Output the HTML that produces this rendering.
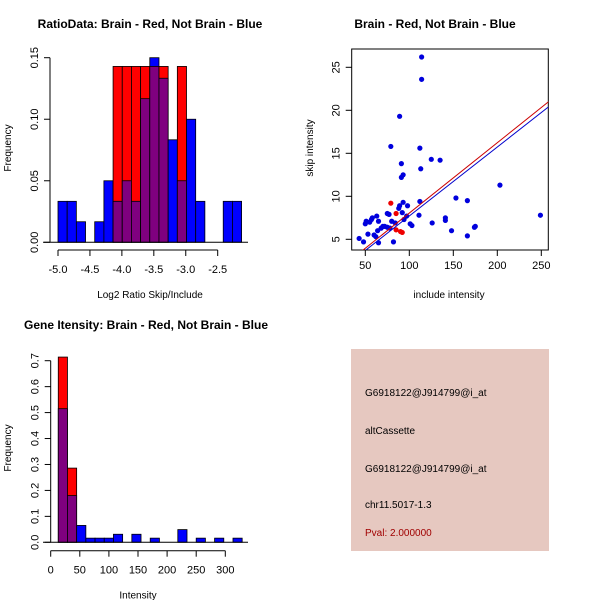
<!DOCTYPE html>
<html><head><meta charset="utf-8">
<style>
body{margin:0;background:#fff;}
svg{display:block;font-family:"Liberation Sans",sans-serif;}
</style></head>
<body>
<svg id="c" width="600" height="600" xmlns="http://www.w3.org/2000/svg">
<rect width="600" height="600" fill="#fff"/>
</svg>
<script>
// ---------- Data ----------
const ratioBinStart = -5.0;
const ratioBinWidth = 0.1437;
const ratioBlue = [0.0333,0.0333,0.0167,0,0.0167,0.05,0.0333,0.05,0.0333,0.1167,0.15,0.1333,0.0833,0.05,0.1,0.0333,0,0,0.0333,0.0333];
const ratioRed  = [0,0,0,0,0,0,0.1429,0.1429,0.1429,0.1429,0.1429,0.1429,0,0.1429,0,0,0,0,0,0];
const ratioXTicks = [-5.0,-4.5,-4.0,-3.5,-3.0,-2.5];
const ratioXLabels = ["-5.0","-4.5","-4.0","-3.5","-3.0","-2.5"];
const ratioYTicks = [0,0.05,0.10,0.15];
const ratioYLabels = ["0.00","0.05","0.10","0.15"];

const intBinStart = 13;
const intBinWidth = 15.8;
const intBlue = [0.515,0.18,0.065,0.016,0.016,0.016,0.031,0,0.031,0,0.016,0,0,0.049,0,0.016,0,0.016,0,0.016];
const intRed  = [0.714,0.286,0,0,0,0,0,0,0,0,0,0,0,0,0,0,0,0,0,0];
const intXTicks = [0,50,100,150,200,250,300];
const intYTicks = [0,0.1,0.2,0.3,0.4,0.5,0.6,0.7];
const intYLabels = ["0.0","0.1","0.2","0.3","0.4","0.5","0.6","0.7"];

const blueX = [43,48,50,51,53,55,57,58,60,62,63,64,65,65,68,70,72,75,75,77,78,79,80,82,84,88,89,89,91,91,92,93,93,94,97,98,101,103,111,112,112,113,114,114,125,126,135,141,141,148,153,166,166,174,175,203,249];
const blueY = [5.1,4.7,6.8,7.1,5.6,7.0,7.3,7.5,5.5,5.3,7.7,6.0,7.1,4.6,6.3,6.5,6.5,8.0,6.4,7.9,6.3,15.8,7.1,4.7,6.9,8.6,19.3,8.9,13.8,12.2,8.1,12.5,9.3,7.3,7.7,8.9,6.8,6.6,7.8,15.6,9.4,13.2,26.2,23.6,14.3,6.9,14.2,7.5,7.2,6.0,9.8,9.5,5.4,6.4,6.5,11.3,7.8];
const redX = [79,85,85,90,92];
const redY = [9.2,8.0,6.1,5.9,5.8];
const redFit = [-0.13,0.0818];   // intercept, slope
const blueFit = [-0.31,0.0802];
const scXTicks = [50,100,150,200,250];
const scYTicks = [5,10,15,20,25];

// ---------- Helpers ----------
const svg = document.getElementById('c');
const NS = 'http://www.w3.org/2000/svg';
function mk(tag, attrs, parent){
  const e = document.createElementNS(NS, tag);
  for (const k in attrs) e.setAttribute(k, attrs[k]);
  (parent||svg).appendChild(e);
  return e;
}
function txt(x,y,s,opts){
  const o = Object.assign({'font-size':11,'text-anchor':'middle',fill:'#000'},opts||{});
  o.x=x; o.y=y;
  const t = mk('text', o);
  t.textContent = s;
  return t;
}
function lin(d0,d1,p0,p1){ return v => p0 + (v-d0)*(p1-p0)/(d1-d0); }

// ---------- Titles ----------
let t;
t = txt(150,28,'RatioData: Brain - Red, Not Brain - Blue',{'font-size':12,'font-weight':'bold'});
 
t = txt(435,28,'Brain - Red, Not Brain - Blue',{'font-size':12,'font-weight':'bold'});
 
t = txt(146,329,'Gene Itensity: Brain - Red, Not Brain - Blue',{'font-size':12,'font-weight':'bold'});
 

// ---------- Histogram drawer ----------
function hist(cfg){
  const g = mk('g',{});
  
  
  const X = cfg.X, Y = cfg.Y;
  for (let i=0;i<cfg.blue.length;i++){
    const x0 = X(cfg.start + i*cfg.w), x1 = X(cfg.start + (i+1)*cfg.w);
    const b = cfg.blue[i], r = cfg.red[i];
    const lo = Math.min(b,r), hi = Math.max(b,r);
    if (hi>0){
      const top = mk('rect',{x:x0,y:Y(hi),width:x1-x0,height:Y(0)-Y(hi),fill:(b>=r?'#0000ff':'#ff0000'),stroke:'#000','stroke-width':0.8},g);
      
      
    }
    if (lo>0){
      const ov = mk('rect',{x:x0,y:Y(lo),width:x1-x0,height:Y(0)-Y(lo),fill:'#7f007f',stroke:'#000','stroke-width':0.8},g);
      
      
    }
  }
  // baseline
  const bl = mk('line',{x1:cfg.blx0,x2:cfg.blx1,y1:Y(0),y2:Y(0),stroke:'#000'},g);
  
  
  // x axis
  const xa = mk('g',{},g);
  
  
  const xt = cfg.xTicks;
  mk('line',{x1:X(xt[0]),x2:X(xt[xt.length-1]),y1:cfg.xAxisY,y2:cfg.xAxisY,stroke:'#000'},xa);
  xt.forEach((v,i)=>{
    mk('line',{x1:X(v),x2:X(v),y1:cfg.xAxisY,y2:cfg.xAxisY+6,stroke:'#000'},xa);
    txt(X(v),cfg.xAxisY+23,cfg.xLabels[i],{},xa);
  });
  // y axis
  const ya = mk('g',{},g);
  
  
  const yt = cfg.yTicks;
  mk('line',{x1:cfg.yAxisX,x2:cfg.yAxisX,y1:Y(yt[0]),y2:Y(yt[yt.length-1]),stroke:'#000'},ya);
  yt.forEach((v,i)=>{
    mk('line',{x1:cfg.yAxisX,x2:cfg.yAxisX-6,y1:Y(v),y2:Y(v),stroke:'#000'},ya);
    const tt = txt(cfg.yAxisX-12,Y(v),cfg.yLabels[i],{transform:'rotate(-90 '+(cfg.yAxisX-12)+' '+Y(v)+')'});
  });
  const xl = txt(cfg.xTitleX,cfg.xAxisY+48,cfg.xTitle,{'font-size':10});
  
  
  const yl = txt(11,cfg.yTitleY,'Frequency',{'font-size':10,transform:'rotate(-90 11 '+cfg.yTitleY+')'});
  
  
}

hist({name:'ratio-hist',X:lin(-5,-2.5,58,217.7),Y:lin(0,0.15,242.3,57.7),
  start:ratioBinStart,w:ratioBinWidth,blue:ratioBlue,red:ratioRed,blx0:43,blx1:248,
  xTicks:ratioXTicks,xLabels:ratioXLabels,xAxisY:250,yTicks:ratioYTicks,yLabels:ratioYLabels,yAxisX:50,
  xTitle:'Log2 Ratio Skip/Include',xTitleX:150,yTitleY:148});

hist({name:'intensity-hist',X:lin(0,300,50.7,225.3),Y:lin(0,0.7,542.3,360.7),
  start:intBinStart,w:intBinWidth,blue:intBlue,red:intRed,blx0:43,blx1:248,
  xTicks:intXTicks,xLabels:intXTicks.map(String),xAxisY:550.7,yTicks:intYTicks,yLabels:intYLabels,yAxisX:50.7,
  xTitle:'Intensity',xTitleX:138,yTitleY:448});

// ---------- Scatter ----------
(function(){
  const g = mk('g',{});
  
  
  const X = lin(50,250,365.3,541.3), Y = lin(5,25,239.3,67.3);
  const bx0=351.7,bx1=548.3,by0=49,by1=250;
  mk('defs',{},g).innerHTML='<clipPath id="sc"><rect x="'+bx0+'" y="'+by0+'" width="'+(bx1-bx0)+'" height="'+(by1-by0)+'"/></clipPath>';
  const box = mk('rect',{x:bx0,y:by0,width:bx1-bx0,height:by1-by0,fill:'none',stroke:'#000'},g);
  
  
  const pts = mk('g',{'clip-path':'url(#sc)'},g);
  blueX.forEach((x,i)=>{
    const c = mk('circle',{cx:X(x),cy:Y(blueY[i]),r:2.6,fill:'#0000dd'},pts);
    
    
  });
  redX.forEach((x,i)=>{
    const c = mk('circle',{cx:X(x),cy:Y(redY[i]),r:2.6,fill:'#ee0000'},pts);
    
    
  });
  const xa=0, xb=300;
  const rl = mk('line',{x1:X(xa),y1:Y(redFit[0]+redFit[1]*xa),x2:X(xb),y2:Y(redFit[0]+redFit[1]*xb),stroke:'#cc0000','stroke-width':1},pts);
  
  
  const bl = mk('line',{x1:X(xa),y1:Y(blueFit[0]+blueFit[1]*xa),x2:X(xb),y2:Y(blueFit[0]+blueFit[1]*xb),stroke:'#0000cc','stroke-width':1},pts);
  
  
  const xax = mk('g',{},g);
  
  
  scXTicks.forEach(v=>{
    mk('line',{x1:X(v),x2:X(v),y1:by1,y2:by1+6,stroke:'#000'},xax);
    txt(X(v),by1+19,String(v),{},xax);
  });
  const yax = mk('g',{},g);
  
  
  scYTicks.forEach(v=>{
    mk('line',{x1:bx0,x2:bx0-6,y1:Y(v),y2:Y(v),stroke:'#000'},yax);
    txt(bx0-12,Y(v),String(v),{transform:'rotate(-90 '+(bx0-12)+' '+Y(v)+')'},yax);
  });
  const xl = txt(449,298,'include intensity',{'font-size':10});
  
  
  const yl = txt(313,148,'skip intensity',{'font-size':10,transform:'rotate(-90 313 148)'});
  
  
})();

// ---------- Info box ----------
(function(){
  const g = mk('g',{});
  
  
  mk('rect',{x:351,y:349,width:198,height:202,fill:'#e6c8c0'},g);
  const lines = [['G6918122@J914799@i_at',396,'#000'],['altCassette',434,'#000'],['G6918122@J914799@i_at',472,'#000'],['chr11.5017-1.3',508,'#000'],['Pval: 2.000000',536,'#a00000']];
  const names = ['probe-id','event-type','probe-id-2','chromosome-location','p-value'];
  lines.forEach((l,i)=>{
    const tt = txt(365,l[1],l[0],{'font-size':10,'text-anchor':'start',fill:l[2]},g);
    
    
  });
})();
</script>
</body></html>
